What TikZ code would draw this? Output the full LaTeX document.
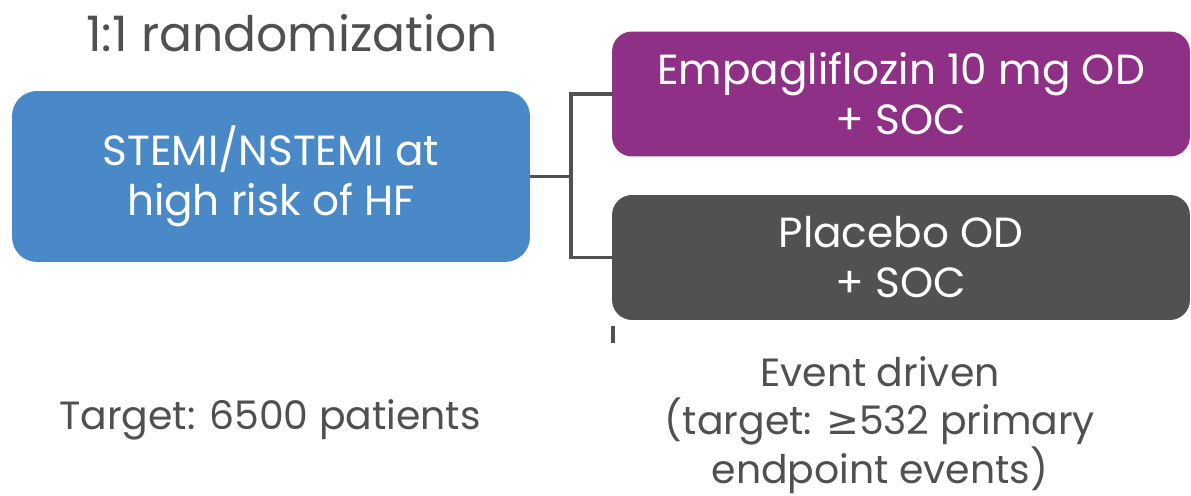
\documentclass[tikz,border=0pt]{standalone}
\usepackage{fontspec}
\setmainfont{Poppins}
\newfontfamily\symfont{DejaVu Sans}
\usepackage{tikz}
\usetikzlibrary{positioning}

\definecolor{armblue}{HTML}{4A89C8}
\definecolor{armpurple}{HTML}{8E3086}
\definecolor{armgray}{HTML}{515151}
\definecolor{txtgray}{HTML}{505050}

\begin{document}
\begin{tikzpicture}[
    x=0.02cm, y=-0.02cm,
    arm/.style={rectangle, rounded corners=0.4cm, minimum height=2.5cm, minimum width=11.56cm, align=center, text=white, font=\fontsize{24}{28.5}\selectfont, inner sep=0pt},
    label/.style={align=center, text=txtgray, font=\fontsize{22.4}{27.5}\selectfont},
    link/.style={draw=armgray, line width=1.9pt}
]
\useasboundingbox (0,0) rectangle (1191,496);

\node[label, font=\fontsize{27.8}{32}\selectfont] (title) at (292,33) {1:1 randomization};

\node[arm, fill=armblue, minimum width=10.36cm, minimum height=3.42cm, rounded corners=0.5cm] (pop) at (271,176.5) {STEMI/NSTEMI at\\high risk of HF};
\node[arm, fill=armpurple] (empa) at (901,94) {Empagliflozin 10 mg OD\\+ SOC};
\node[arm, fill=armgray] (plac) at (901,257.5) {Placebo OD\\+ SOC};

\coordinate (split) at (571,176.5);
\draw[link] (pop.east) -- (split);
\draw[link] (empa.west) -| (split) |- (plac.west);

% small tick under the placebo arm
\coordinate (tick) at (613,326);
\draw[armgray, line width=1.8pt] (tick) -- ++(0,17);

\node[label] (target) at (270,420) {Target: 6500 patients};
\node[label] (events) at (880,425) {Event driven\\(target: {\symfont ≥}532 primary\\endpoint events)};

\end{tikzpicture}
\end{document}
